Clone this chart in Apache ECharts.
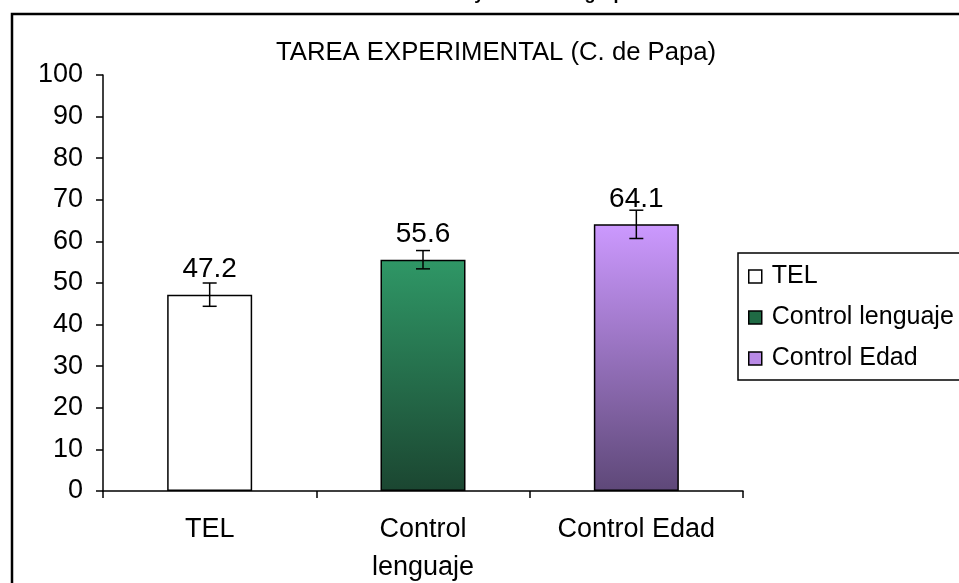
<!DOCTYPE html>
<html>
<head>
<meta charset="utf-8">
<script src="https://cdn.jsdelivr.net/npm/echarts@6/dist/echarts.min.js"></script>
<style>
html,body{margin:0;padding:0;background:#fff;}
#c{width:959px;height:583px;}
</style>
</head>
<body>
<div id="c"></div>
<script>
const categories = ['TEL', 'Control lenguaje', 'Control Edad'];
const axisLabels = ['TEL', 'Control\nlenguaje', 'Control Edad'];
const values = [47.2, 55.6, 64.1];
const errors = [2.8, 2.2, 3.4];
const yTicks = [0, 10, 20, 30, 40, 50, 60, 70, 80, 90, 100];

const FONT = 'Liberation Sans, Arial, Helvetica, sans-serif';
const fills = [
  '#ffffff',
  {type: 'linear', x: 0, y: 0, x2: 0, y2: 1, colorStops: [{offset: 0, color: '#2f9766'}, {offset: 1, color: '#1b4631'}]},
  {type: 'linear', x: 0, y: 0, x2: 0, y2: 1, colorStops: [{offset: 0, color: '#cc99ff'}, {offset: 1, color: '#5e4878'}]}
];
const legendFills = ['#ffffff', '#1f6a44', '#b98ae6'];

const chart = echarts.init(document.getElementById('c'), null, {renderer: 'canvas'});

const barSeries = categories.map((name, i) => ({
  name: name,
  type: 'bar',
  barWidth: 85,
  barGap: '-100%',
  data: values.map((v, j) => j === i ? v : '-'),
  itemStyle: {color: fills[i], borderColor: '#000', borderWidth: 1.5},
  label: {
    show: true, position: 'top', distance: 11,
    fontFamily: FONT, fontSize: 28, color: '#000',
    formatter: p => p.value.toFixed(1)
  },
  z: 2
}));

const errData = values.map((v, i) => [i, v - errors[i], v + errors[i]]);

const option = {
  animation: false,
  backgroundColor: '#fff',
  textStyle: {fontFamily: FONT},
  title: {
    text: 'TAREA EXPERIMENTAL (C. de Papa)',
    left: 271, top: 35,
    textStyle: {fontFamily: FONT, fontSize: 25.7, fontWeight: 'normal', color: '#000'}
  },
  legend: {
    orient: 'vertical',
    left: 738, top: 253,
    data: categories.map((c, i) => ({name: c, itemStyle: {color: legendFills[i], borderColor: '#000', borderWidth: 1.5}})),
    icon: 'rect', itemWidth: 13, itemHeight: 13, itemGap: 16,
    padding: [11, 12, 9, 10],
    borderColor: '#000', borderWidth: 1.5,
    textStyle: {fontFamily: FONT, fontSize: 25, color: '#000', padding: [0, 0, 0, 5]}
  },
  grid: {left: 103, right: 216, top: 75, bottom: 92, containLabel: false, outerBoundsMode: 'none'},
  xAxis: {
    type: 'category',
    data: axisLabels,
    axisLine: {lineStyle: {color: '#000', width: 1.5}},
    axisTick: {show: true, length: 7, inside: false, lineStyle: {color: '#000', width: 1.5}},
    axisLabel: {fontFamily: FONT, fontSize: 27, color: '#000', margin: 20, lineHeight: 38, interval: 0},
    splitLine: {show: false}
  },
  yAxis: {
    type: 'value',
    min: yTicks[0], max: yTicks[yTicks.length - 1], interval: 10,
    axisLine: {show: true, lineStyle: {color: '#000', width: 1.5}},
    axisTick: {show: true, length: 7, lineStyle: {color: '#000', width: 1.5}},
    axisLabel: {fontFamily: FONT, fontSize: 27, color: '#000', margin: 20},
    splitLine: {show: false}
  },
  series: barSeries.concat([{
    type: 'custom',
    name: 'err',
    data: errData,
    z: 5,
    renderItem: function (params, api) {
      const x = api.value(0);
      const lo = api.coord([x, api.value(1)]);
      const hi = api.coord([x, api.value(2)]);
      const half = 7;
      const st = {stroke: '#000', lineWidth: 1.5};
      return {
        type: 'group',
        children: [
          {type: 'line', shape: {x1: lo[0], y1: lo[1], x2: hi[0], y2: hi[1]}, style: st},
          {type: 'line', shape: {x1: lo[0] - half, y1: lo[1], x2: lo[0] + half, y2: lo[1]}, style: st},
          {type: 'line', shape: {x1: hi[0] - half, y1: hi[1], x2: hi[0] + half, y2: hi[1]}, style: st}
        ]
      };
    }
  }]),
  graphic: [
    {type: 'rect', shape: {x: 12, y: 14, width: 980, height: 600}, style: {fill: 'none', stroke: '#000', lineWidth: 2.5}, z: 10},
    {type: 'text', x: 478, y: -15, style: {text: 'Resultados Tarea y Edad en el grupo', fontFamily: FONT, fontSize: 18, fontWeight: 'bold', fill: '#000', textAlign: 'center', textVerticalAlign: 'top'}, z: 10}
  ]
};
chart.setOption(option);
</script>
</body>
</html>
